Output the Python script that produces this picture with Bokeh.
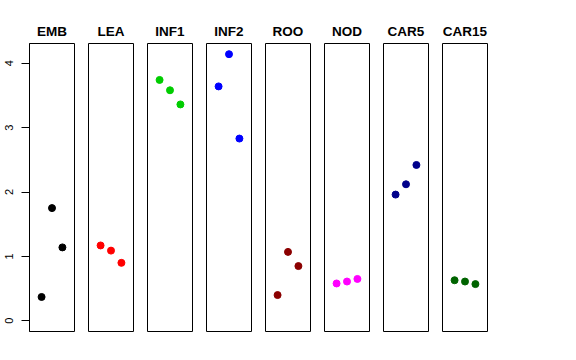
from bokeh.plotting import figure
from bokeh.layouts import row
from bokeh.models import Range1d, Title, FixedTicker
from bokeh.embed import file_html
from bokeh.resources import INLINE

categories = ["EMB", "LEA", "INF1", "INF2", "ROO", "NOD", "CAR5", "CAR15"]
positions = [1, 2, 3]
emb = [0.37, 1.75, 1.14]
lea = [1.17, 1.09, 0.90]
inf1 = [3.74, 3.58, 3.36]
inf2 = [3.64, 4.14, 2.83]
roo = [0.40, 1.07, 0.85]
nod = [0.58, 0.61, 0.65]
car5 = [1.96, 2.12, 2.42]
car15 = [0.63, 0.61, 0.57]
series = [emb, lea, inf1, inf2, roo, nod, car5, car15]
colors = ["#000000", "#FF0000", "#00CD00", "#0000FF", "#8B0000", "#FF00FF", "#00008B", "#006400"]
y_ticks = [0, 1, 2, 3, 4]

FONT = "Liberation Sans"
figs = []
for i, (cat, vals, col) in enumerate(zip(categories, series, colors)):
    first = i == 0
    p = figure(
        frame_width=45, frame_height=288,
        x_range=Range1d(-0.16, 4.16), y_range=Range1d(-0.166, 4.306),
        output_backend="svg", toolbar_location=None,
        min_border_left=29 if first else 7, min_border_right=7,
        min_border_top=43, min_border_bottom=10,
        x_axis_location=None, y_axis_location="left" if first else None,
    )
    p.title = Title(text=cat, align="center", text_font=FONT,
                    text_font_size="13.5px", text_font_style="bold",
                    text_color="#000000")
    p.xgrid.visible = False
    p.ygrid.visible = False
    p.outline_line_color = "#000000"
    p.outline_line_width = 1
    p.background_fill_color = "white"
    p.border_fill_color = "white"
    if first:
        ax = p.yaxis[0]
        ax.ticker = FixedTicker(ticks=y_ticks)
        ax.major_tick_out = 8
        ax.major_tick_in = 0
        ax.minor_tick_line_color = None
        ax.axis_line_color = "#000000"
        ax.major_tick_line_color = "#000000"
        ax.major_label_orientation = "vertical"
        ax.major_label_standoff = 8
        ax.major_label_text_font = FONT
        ax.major_label_text_font_size = "11px"
        ax.major_label_text_color = "#000000"
    p.scatter(positions, vals, size=7, color=col, line_color=col)
    figs.append(p)

layout = row(*figs, spacing=0)
open("out.html", "w").write(file_html(layout, INLINE))
